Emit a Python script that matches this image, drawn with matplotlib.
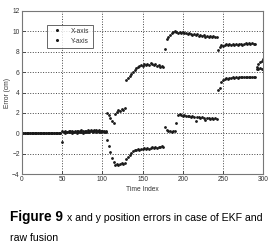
import numpy as np
import matplotlib
matplotlib.use("Agg")
import matplotlib.pyplot as plt

time_index = np.arange(0, 301, 2)

x_axis_err = [0.0] * 25 + [
    0.2, 0.1, 0.2, 0.15, 0.25, 0.1, 0.2, 0.15, 0.25, 0.2, 0.1, 0.2, 0.3, 0.2,
    0.15, 0.25, 0.3, 0.2, 0.3, 0.25, 0.35, 0.3, 0.2, 0.3, 0.25, 0.2, 0.25, 0.2,
    1.95, 1.8, 1.5, 1.2, 1.0, 1.9, 2.1, 2.3, 2.2, 2.4, 2.3, 2.5,
    5.2, 5.4, 5.6, 5.8, 6.0, 6.2, 6.4, 6.5, 6.6, 6.7, 6.6, 6.8, 6.7, 6.8, 6.7,
    6.9, 6.8, 6.7, 6.8, 6.6, 6.7, 6.5, 6.6, 6.5,
    8.3, 9.2, 9.4, 9.6, 9.8, 9.9, 10.0, 9.9, 9.8, 9.9, 9.8, 9.9, 9.8, 9.8, 9.7,
    9.8, 9.7, 9.6, 9.7, 9.6, 9.7, 9.5, 9.6, 9.5, 9.6, 9.4, 9.5, 9.4, 9.5, 9.4,
    9.5, 9.4, 9.4,
    8.2, 8.4, 8.6, 8.5, 8.6, 8.7, 8.6, 8.7, 8.6, 8.7, 8.6, 8.7, 8.6, 8.7, 8.7,
    8.6, 8.7, 8.8, 8.7, 8.8, 8.7, 8.8, 8.7, 8.7,
    6.5, 6.8, 7.0, 7.1, 7.3,
]

y_axis_err = [0.0] * 25 + [
    -0.8, 0.1, 0.05, 0.15, 0.1, 0.2, 0.05, 0.15, 0.1, 0.05, 0.2, 0.1, 0.15, 0.05,
    0.2, 0.1, 0.15, 0.1, 0.2, 0.15, 0.2, 0.1, 0.25, 0.15, 0.1, 0.2, 0.15, 0.1,
    -0.6, -1.2, -1.8, -2.4, -2.8, -3.1, -3.0, -3.1, -3.0, -2.9, -3.0, -2.9,
    -2.5, -2.3, -2.1, -1.9, -1.75, -1.65, -1.6, -1.5, -1.6, -1.5, -1.55, -1.45,
    -1.5, -1.4, -1.5, -1.4, -1.35, -1.45, -1.3, -1.4, -1.3, -1.35, -1.25, -1.3,
    0.65, 0.3, 0.2, 0.2, 0.15, 0.2, 0.25, 1.0, 1.8, 1.85, 1.8, 1.75, 1.8, 1.7,
    1.75, 1.7, 1.65, 1.7, 1.6, 1.2, 1.65, 1.6, 1.55, 1.6, 1.5, 1.3, 1.55, 1.5,
    1.45, 1.5, 1.45, 1.5, 1.45,
    4.2, 4.4, 5.0, 5.2, 5.3, 5.4, 5.35, 5.45, 5.4, 5.5, 5.45, 5.5, 5.45, 5.5,
    5.55, 5.5, 5.55, 5.5, 5.55, 5.5, 5.55, 5.5, 5.5, 5.55,
    6.3, 6.3, 6.35, 6.3, 6.3,
]

series_labels = ["X-axis", "Y-axis"]
x_ticks = [0, 50, 100, 150, 200, 250, 300]
y_ticks = [-4, -2, 0, 2, 4, 6, 8, 10, 12]

plt.rcParams['font.family'] = ['Liberation Sans', 'DejaVu Sans']

fig = plt.figure(figsize=(2.70, 2.48), dpi=100)
ax = fig.add_axes([0.081, 0.297, 0.894, 0.660])

ax.plot(time_index, x_axis_err, linestyle='none', marker='.', markersize=2.0,
        color='#1a1a1a', label=series_labels[0])
ax.plot(time_index, y_axis_err, linestyle='none', marker='.', markersize=2.0,
        color='#1a1a1a', label=series_labels[1])

ax.set_xlim(0, 300)
ax.set_ylim(-4, 12)
ax.set_xticks(x_ticks)
ax.set_yticks(y_ticks)
ax.tick_params(labelsize=4.8, direction='in', length=2, width=0.6, pad=1.5,
               colors='#333333')
ax.grid(True, linestyle=':', color='#444444', linewidth=0.7)
for s in ax.spines.values():
    s.set_color('#777777')
    s.set_linewidth(0.8)

ax.set_xlabel("Time Index", fontsize=4.8, labelpad=1.5, color='#333333')
ax.set_ylabel("Error (cm)", fontsize=4.8, labelpad=1, color='#333333')

leg = ax.legend(loc='upper left', bbox_to_anchor=(0.09, 0.935), fontsize=4.8,
                frameon=True, fancybox=False, edgecolor='#222222',
                handlelength=2.2, handletextpad=1.0, borderpad=0.45,
                labelspacing=0.45, markerscale=1.2)
leg.get_frame().set_linewidth(0.6)
for t in leg.get_texts():
    t.set_color('#333333')

t1 = fig.text(0.037, 0.108, "Figure 9", fontsize=9.8, fontweight='bold',
              ha='left', va='baseline')
fig.canvas.draw()
bb = t1.get_window_extent(renderer=fig.canvas.get_renderer())
x2 = (bb.x1 + 4) / fig.bbox.width
fig.text(x2, 0.108, "x and y position errors in case of EKF and",
         fontsize=7.6, ha='left', va='baseline')
fig.text(0.037, 0.028, "raw fusion", fontsize=7.6, ha='left', va='baseline')

fig.savefig("out.png", dpi=100)
